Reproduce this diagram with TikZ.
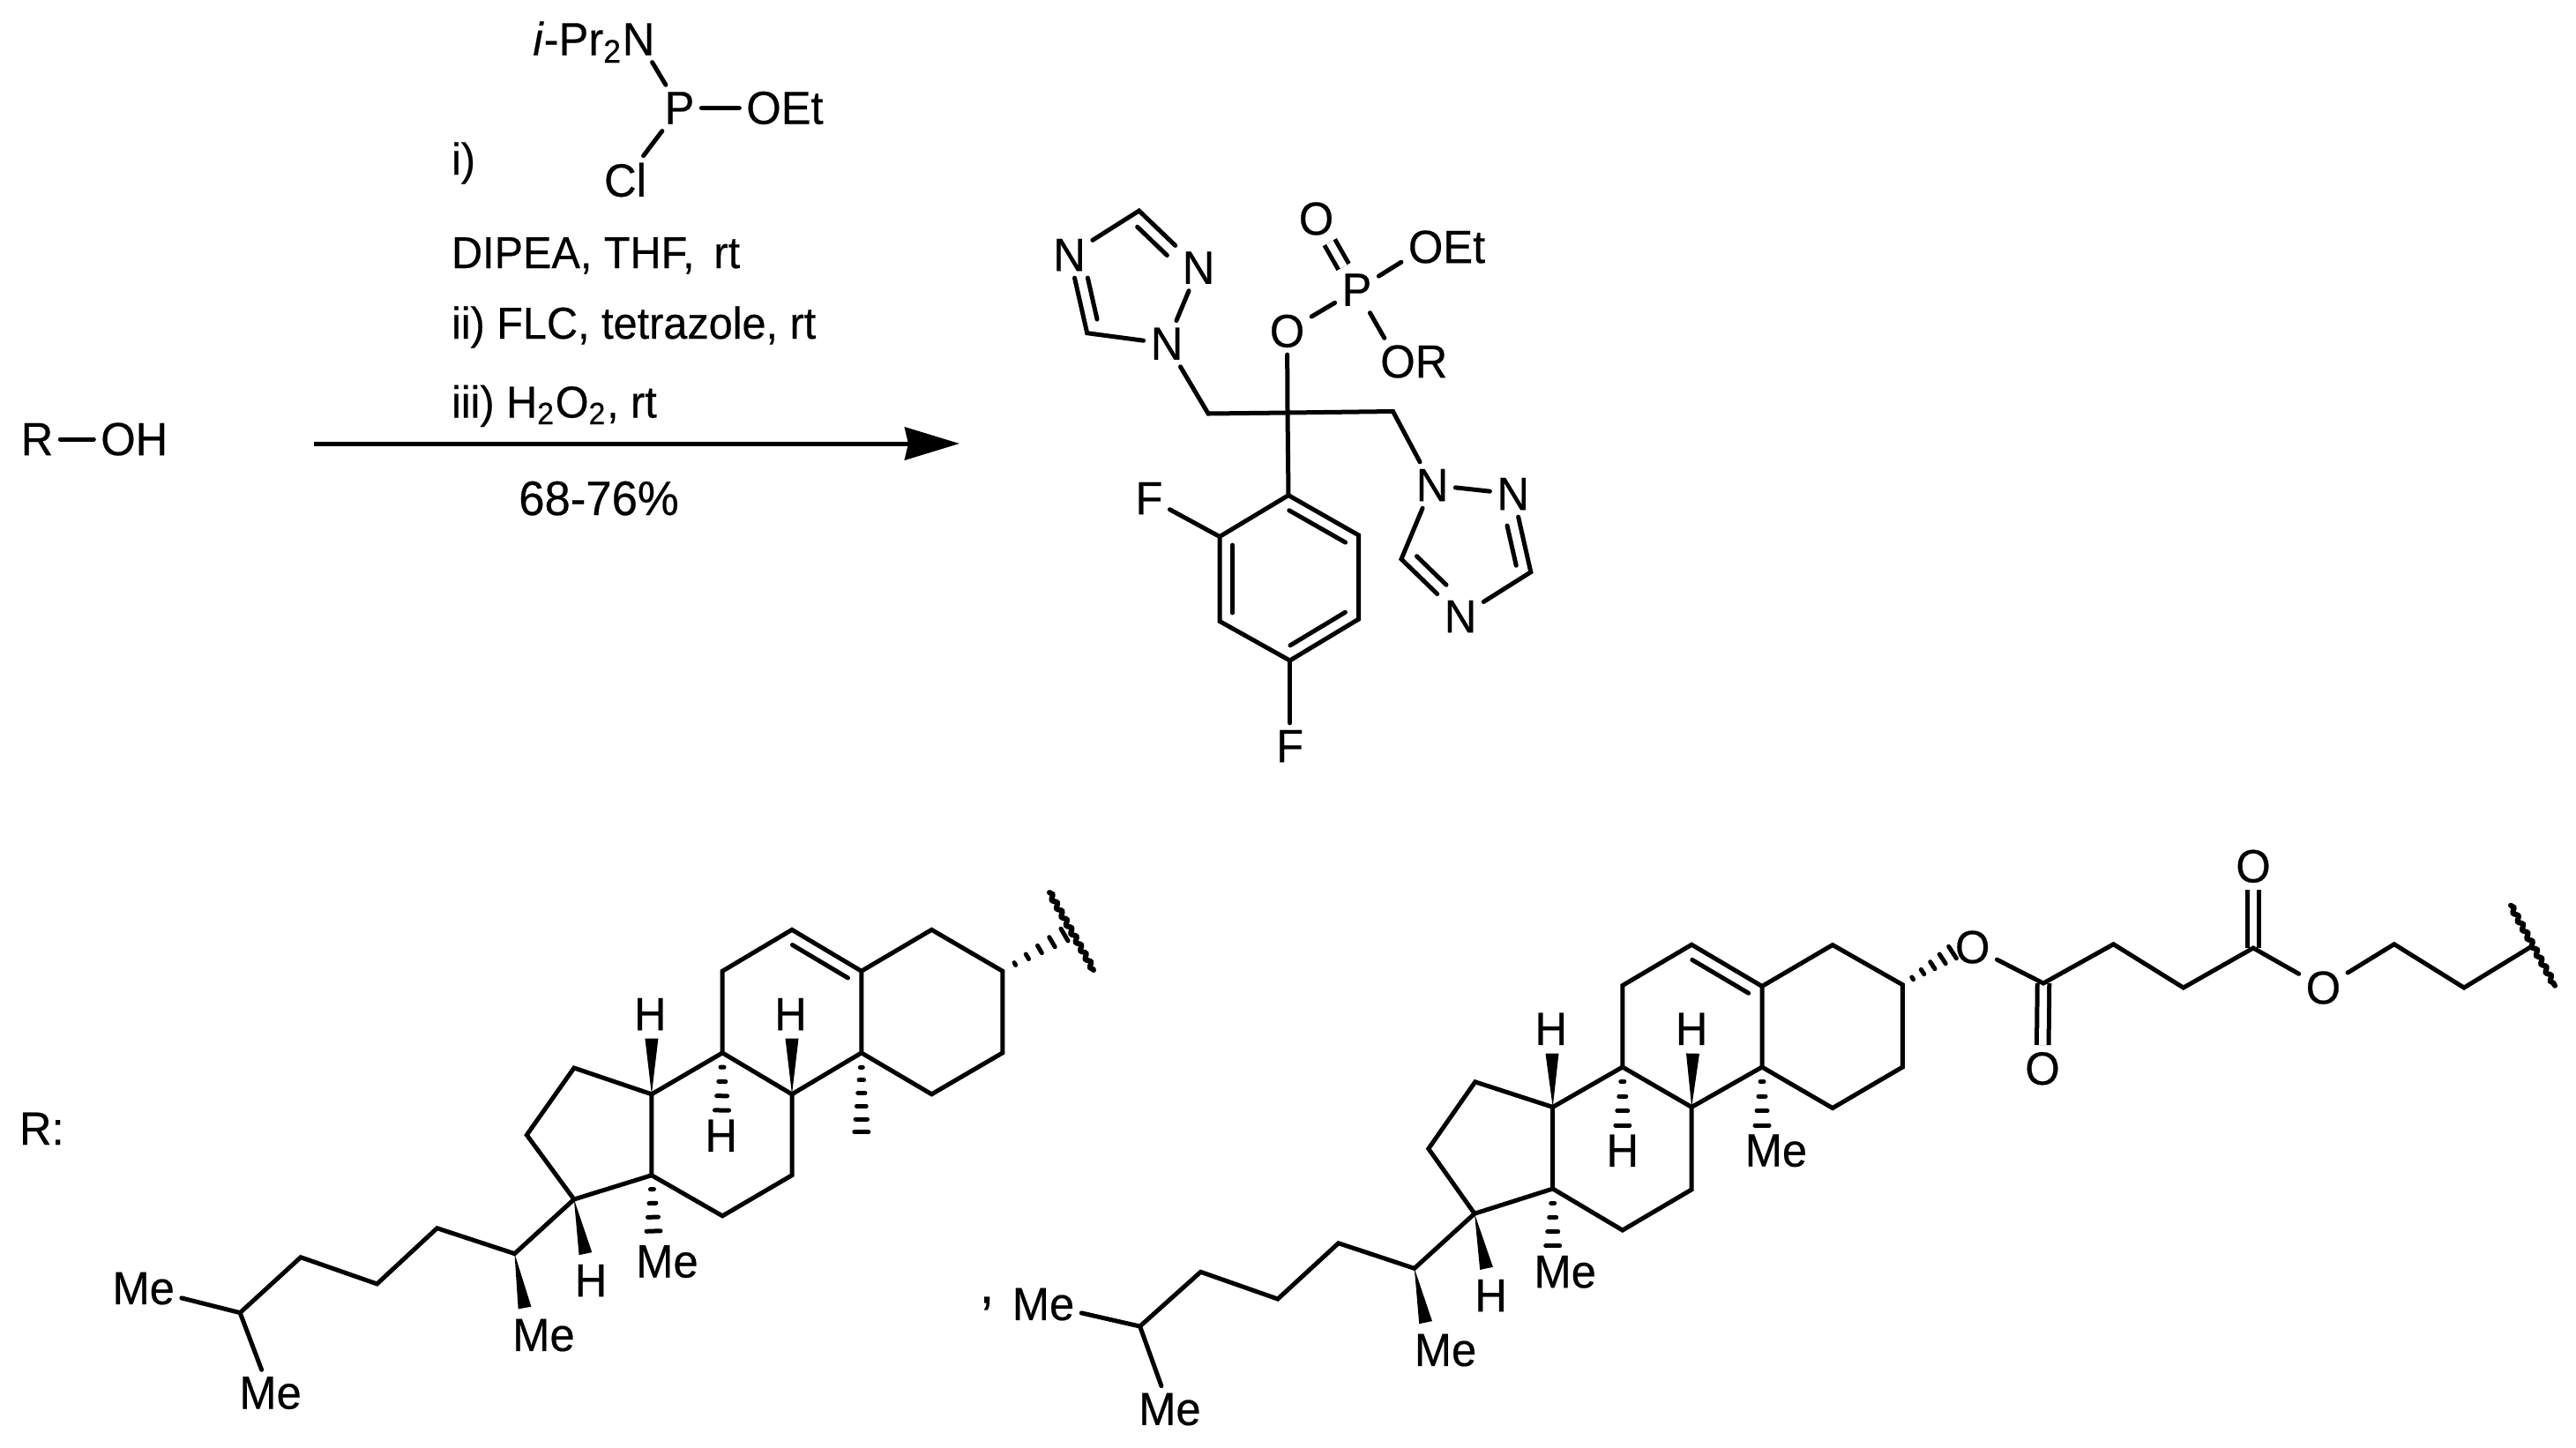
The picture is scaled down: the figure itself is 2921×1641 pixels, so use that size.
\documentclass[tikz,border=0pt]{standalone}
\usepackage{fontspec}
\setmainfont[FakeStretch=0.96,FakeBold=0.4]{Liberation Sans}
\usetikzlibrary{calc,arrows.meta,decorations.pathmorphing}
\newcommand{\wedgebond}[2]{\fill (#1) -- ($(#2)!0.075cm!90:(#1)$) -- ($(#2)!0.075cm!-90:(#1)$) -- cycle;}
\newcommand{\hashbond}[3]{\foreach \t in {#3} {\draw[line width=0.05cm] ($(#1)!\t!(#2)!\t*0.08cm!90:(#1)$) -- ($(#1)!\t!(#2)!\t*0.08cm!-90:(#1)$);}}
\newcommand{\innerbond}[5]{\draw ($(#1)!#3!(#2)!0.145cm!#5:(#2)$) -- ($(#1)!#4!(#2)!0.145cm!#5:(#2)$);}
\begin{document}
\begin{tikzpicture}[x=0.01cm,y=-0.01cm,line width=0.05cm,line cap=round]
\tikzstyle{every node}=[outer sep=0cm,font=\fontsize{15}{17}\selectfont];
\tikzstyle{atom}=[inner sep=0.08cm];
\tikzstyle{tail}=[inner sep=0cm];
\tikzstyle{txt}=[inner sep=0cm,anchor=base west,font=\fontsize{14.4}{17}\selectfont];
\tikzstyle{dbl}=[double,double distance=0.085cm,line cap=butt];
\tikzstyle{wavy}=[decorate,decoration={snake,segment length=0.11cm,amplitude=0.02cm},line width=0.06cm];
\useasboundingbox (0,0) rectangle (2921,1641);

\node[atom] (rr) at (42,498) {R};
\node[atom] (ro) at (134,498) {O};
\node[tail,anchor=base west,xshift=-0.08cm] (rh) at (ro.base east) {H};
\draw (rr) -- (ro);

\node[atom] (cn) at (724,44.5) {N};
\node[tail,anchor=base east,xshift=0.08cm] (cipr) at (cn.base west) {\textit{i}-Pr\textsubscript{2}};
\node[atom] (cp) at (770.5,122.4) {P};
\node[atom] (co) at (866,122.4) {O};
\node[tail,anchor=base west,xshift=-0.08cm] (cet) at (co.base east) {Et};
\node[atom] (ccl) at (709,204) {Cl};
\draw (cn) -- (cp);
\draw (cp) -- (co);
\draw (cp) -- (ccl);

\node[txt] (txa) at (512,198) {i)};
\node[txt] (txb) at (512,304) {DIPEA, THF,\, rt};
\node[txt] (txc) at (512,384) {ii) FLC, tetrazole, rt};
\node[txt] (txd) at (512,473.5) {iii) H\textsubscript{2}O\textsubscript{2}, rt};
\node[tail,anchor=base,font=\fontsize{15.6}{17}\selectfont] (txe) at (679,584) {68-76\%};
\coordinate (arra) at (356,503);
\coordinate (arrb) at (1088,503);
\draw[line cap=butt,-{Stealth[length=0.62cm,width=0.37cm,inset=0.04cm]}] (arra) -- (arrb);

\node[atom] (nta) at (1212.6,289) {N};
\node[atom] (ntb) at (1359,303.6) {N};
\node[atom] (ntc) at (1323,389.7) {N};
\coordinate (cta) at (1291.6,239);
\coordinate (ctd) at (1232.7,377.7);
\node[atom] (nrc) at (1624,550) {N};
\node[atom] (nrb) at (1715.7,560) {N};
\node[atom] (nrd) at (1656,699) {N};
\coordinate (crr) at (1735.8,648.7);
\coordinate (crl) at (1589,634);
\coordinate (cha) at (1370,469);
\coordinate (chb) at (1579.5,466.5);
\coordinate (cq) at (1460,468);
\node[atom] (ol) at (1459.5,375.4) {O};
\node[atom] (pe) at (1538.5,328.6) {P};
\node[atom] (ou) at (1492.5,248) {O};
\node[atom] (oe) at (1616.6,280) {O};
\node[tail,anchor=base west,xshift=-0.08cm] (oet) at (oe.base east) {Et};
\node[atom] (or) at (1585,410) {O};
\node[tail,anchor=base west,xshift=-0.08cm] (orr) at (or.base east) {R};
\coordinate (ara) at (1461,561.6);
\coordinate (arb) at (1540.7,607);
\coordinate (arc) at (1540.7,702);
\coordinate (ard) at (1462.6,749);
\coordinate (are) at (1383,704.5);
\coordinate (arf) at (1383,608.5);
\node[atom] (fa) at (1303,565) {F};
\node[atom] (fb) at (1462.6,846) {F};
\draw (ntc) -- (ctd) -- (nta);
\draw (nta) -- (cta) -- (ntb);
\draw (ntb) -- (ntc);
\draw (ntc) -- (cha) -- (cq) -- (chb) -- (nrc);
\draw (nrc) -- (nrb);
\draw (nrb) -- (crr) -- (nrd);
\draw (nrd) -- (crl) -- (nrc);
\draw (ol) -- (cq) -- (ara);
\draw (ol) -- (pe);
\draw (pe) -- (oe);
\draw (pe) -- (or);
\draw[dbl] (pe) -- (ou);
\draw (ara) -- (arb) -- (arc) -- (ard) -- (are) -- (arf) -- cycle;
\draw (arf) -- (fa);
\draw (ard) -- (fb);
\innerbond{nta}{ctd}{0.33}{0.86}{90}
\innerbond{cta}{ntb}{0.12}{0.62}{-90}
\innerbond{crl}{nrd}{0.11}{0.61}{90}
\innerbond{nrb}{crr}{0.37}{0.88}{-90}
\innerbond{ara}{arb}{0.1}{0.9}{-90}
\innerbond{arc}{ard}{0.1}{0.9}{-90}
\innerbond{are}{arf}{0.1}{0.9}{-90}

\node[tail,anchor=base west] (rlab) at (22,1298) {R:};
\node[tail,font=\fontsize{18}{20}\selectfont] (comma) at (1119,1478) {,};

\coordinate (pa1) at (1136.8,1101.2);
\coordinate (pa2) at (1056.4,1054.3);
\coordinate (pa3) at (976.8,1101.2);
\coordinate (pa4) at (976.8,1193.9);
\coordinate (pa5) at (1056.4,1240.8);
\coordinate (pa6) at (1136.8,1193.9);
\coordinate (pb1) at (898,1054.3);
\coordinate (pb2) at (819.2,1101.2);
\coordinate (pb3) at (819.2,1193.9);
\coordinate (pb4) at (898,1240.8);
\coordinate (pc1) at (738.9,1240.8);
\coordinate (pc2) at (738.9,1332.7);
\coordinate (pc3) at (819.2,1378.8);
\coordinate (pc4) at (898,1332.7);
\coordinate (pd1) at (650.9,1211);
\coordinate (pd2) at (597.3,1287);
\coordinate (pd3) at (650.9,1360);
\coordinate (ps1) at (583.5,1421.6);
\coordinate (ps2) at (495.6,1392.7);
\coordinate (ps3) at (427.5,1455.9);
\coordinate (ps4) at (341,1425.7);
\coordinate (ps5) at (272.2,1488.6);
\node[atom] (pma) at (162.7,1461) {Me};
\node[atom] (pmb) at (306.6,1579.6) {Me};
\node[atom] (pmc) at (616.5,1514) {Me};
\node[atom] (pmd) at (756.5,1430.6) {Me};
\node[atom] (pha) at (737.3,1150) {H};
\node[atom] (phb) at (896.5,1150) {H};
\node[atom] (phc) at (817.7,1287.8) {H};
\node[atom] (phd) at (670,1452) {H};
\coordinate (pwa) at (738.9,1177.6);
\coordinate (pwb) at (898,1177.6);
\coordinate (pwc) at (663.9,1421.6);
\coordinate (pwd) at (595,1483);
\coordinate (pxa) at (818.5,1259);
\coordinate (pxb) at (976.8,1283.7);
\coordinate (pxc) at (741,1396);
\coordinate (pxd) at (1207,1060);
\coordinate (pya) at (1190,1012);
\coordinate (pyb) at (1240,1100);
\draw (pma) -- (ps5);
\draw (ps5) -- (pmb);
\hashbond{pb3}{pxa}{0.25,0.5,0.75,1}
\hashbond{pa4}{pxb}{0.18,0.344,0.508,0.672,0.836,1}
\hashbond{pc2}{pxc}{0.25,0.5,0.75,1}
\hashbond{pa1}{pxd}{0.2,0.4,0.6,0.8,1}
\draw[wavy] (pya) -- (pyb);

\coordinate (qa1) at (2157.4,1116.7);
\coordinate (qa2) at (2078,1071.5);
\coordinate (qa3) at (1998,1118.4);
\coordinate (qa4) at (1998,1210);
\coordinate (qa5) at (2078,1256.5);
\coordinate (qa6) at (2157.4,1210);
\coordinate (qb1) at (1918.2,1071.2);
\coordinate (qb2) at (1839.8,1117.5);
\coordinate (qb3) at (1839.8,1210);
\coordinate (qb4) at (1918.2,1255.4);
\coordinate (qc1) at (1760.7,1255.4);
\coordinate (qc2) at (1760.7,1348);
\coordinate (qc3) at (1839.8,1395);
\coordinate (qc4) at (1918.2,1348.9);
\coordinate (qd1) at (1672.7,1226.8);
\coordinate (qd2) at (1619.8,1302.6);
\coordinate (qd3) at (1672,1376.2);
\coordinate (qs1) at (1603.8,1438.3);
\coordinate (qs2) at (1517.7,1409.7);
\coordinate (qs3) at (1448.9,1473);
\coordinate (qs4) at (1361.5,1442.3);
\coordinate (qs5) at (1292.6,1504);
\node[atom] (qma) at (1183,1479) {Me};
\node[atom] (qmb) at (1326.4,1598) {Me};
\node[atom] (qmc) at (1639,1531) {Me};
\node[atom] (qmd) at (1774.7,1442.3) {Me};
\node[atom] (qme) at (2013.9,1304.8) {Me};
\node[atom] (qha) at (1758.8,1166.8) {H};
\node[atom] (qhb) at (1918.2,1166.8) {H};
\node[atom] (qhc) at (1839.8,1304.8) {H};
\node[atom] (qhd) at (1690.6,1469) {H};
\coordinate (qwa) at (1760,1194.6);
\coordinate (qwb) at (1919.5,1194.6);
\coordinate (qwc) at (1685.5,1438.3);
\coordinate (qwd) at (1616.6,1499.6);
\coordinate (qxa) at (1839.8,1276);
\coordinate (qxb) at (1998,1276);
\coordinate (qxc) at (1760.7,1412.8);
\coordinate (qxd) at (2214,1080);
\node[atom] (qoa) at (2236.7,1074) {O};
\coordinate (qe1) at (2317,1115);
\node[atom] (qob) at (2316,1211.7) {O};
\coordinate (qe2) at (2396.5,1070.7);
\coordinate (qe3) at (2475.8,1120);
\coordinate (qe4) at (2555,1075);
\node[atom] (qoc) at (2555,982.3) {O};
\node[atom] (qod) at (2634.4,1120) {O};
\coordinate (qe5) at (2714.8,1070.7);
\coordinate (qe6) at (2794,1120);
\coordinate (qe7) at (2869.3,1074);
\coordinate (qya) at (2847,1026.7);
\coordinate (qyb) at (2897,1117.7);
\draw (qma) -- (qs5);
\draw (qs5) -- (qmb);
\hashbond{qb3}{qxa}{0.25,0.5,0.75,1}
\hashbond{qa4}{qxb}{0.25,0.5,0.75,1}
\hashbond{qc2}{qxc}{0.25,0.5,0.75,1}
\hashbond{qa1}{qxd}{0.2,0.4,0.6,0.8,1}
\draw[dbl] (qe1) -- (qob);
\draw[dbl] (qe4) -- (qoc);
\draw (qoa) -- (qe1) -- (qe2) -- (qe3) -- (qe4) -- (qod);
\draw (qod) -- (qe5) -- (qe6) -- (qe7);
\draw[wavy] (qya) -- (qyb);

\foreach \p in {p,q} {
	\draw (\p a1) -- (\p a2) -- (\p a3) -- (\p a4) -- (\p a5) -- (\p a6) -- cycle;
	\draw (\p a3) -- (\p b1) -- (\p b2) -- (\p b3) -- (\p b4) -- (\p a4);
	\draw (\p b3) -- (\p c1) -- (\p c2) -- (\p c3) -- (\p c4) -- (\p b4);
	\draw (\p c1) -- (\p d1) -- (\p d2) -- (\p d3) -- (\p c2);
	\draw (\p d3) -- (\p s1) -- (\p s2) -- (\p s3) -- (\p s4) -- (\p s5);
	\innerbond{\p b1}{\p a3}{0.1}{0.9}{-90}
	\wedgebond{\p c1}{\p wa}
	\wedgebond{\p b4}{\p wb}
	\wedgebond{\p d3}{\p wc}
	\wedgebond{\p s1}{\p wd}
}
\end{tikzpicture}
\end{document}
